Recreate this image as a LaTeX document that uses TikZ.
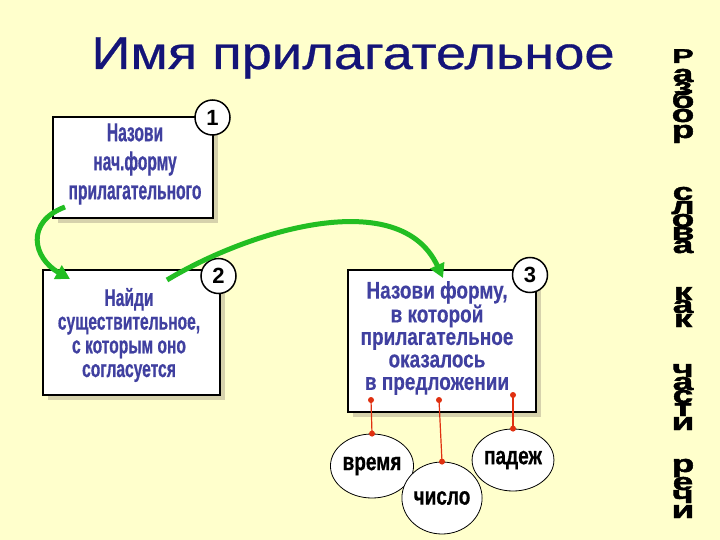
\documentclass[tikz,border=0pt]{standalone}
\usepackage{fontspec}
\setmainfont{Liberation Sans}
\newfontfamily\titlefont[FakeStretch=1.18,FakeBold=0.6]{Liberation Sans}
\newfontfamily\narrowA[FakeStretch=0.6,FakeBold=0.7]{Liberation Sans}
\newfontfamily\narrowB[FakeStretch=0.65,FakeBold=0.6]{Liberation Sans}
\newfontfamily\narrowC[FakeStretch=0.79,FakeBold=0.3]{Liberation Sans}
\newfontfamily\narrowW[FakeStretch=0.76,FakeBold=0.6]{Liberation Sans}
\newfontfamily\heavyfont[FakeBold=1.5]{Liberation Sans}
\usetikzlibrary{arrows.meta,shapes.geometric,shadows}
\definecolor{bg}{RGB}{255,255,204}
\definecolor{navy}{RGB}{20,20,120}
\definecolor{boxtext}{RGB}{64,64,160}
\definecolor{shadowc}{RGB}{214,210,172}
\definecolor{arrowgreen}{RGB}{34,190,34}
\definecolor{dotred}{RGB}{224,48,16}
\tikzset{
  stepbox/.style={draw=black, line width=1.8pt, fill=white, inner sep=0pt,
    drop shadow={shadow xshift=5pt, shadow yshift=-5pt, fill=shadowc, opacity=1}},
  boxtxt/.style={text=boxtext, align=center, inner sep=0pt},
  numcirc/.style={circle, draw=black, line width=1.5pt, fill=white, minimum size=35pt,
    inner sep=0pt, font=\bfseries\fontsize{22}{22}\selectfont},
  wordcirc/.style={ellipse, draw=black, line width=0.8pt, fill=white, inner sep=0pt,
    font=\narrowW\bfseries\fontsize{25}{25}\selectfont},
  greenarrow/.style={draw=arrowgreen, line width=5pt,
    -{Triangle[length=14pt,width=15pt]}},
  reddot/.style={circle, fill=dotred, minimum size=6pt, inner sep=0pt},
  redline/.style={draw=dotred, line width=1.2pt},
  vletter/.style={anchor=base, inner sep=0pt, font=\heavyfont\bfseries\fontsize{20}{20}\selectfont}
}
\begin{document}
\begin{tikzpicture}[x=1pt,y=-1pt]
\useasboundingbox (0,0) rectangle (720,540);
\fill[bg] (0,0) rectangle (720,540);

% title
\node[anchor=base, inner sep=0pt, text=navy, font=\titlefont\fontsize{46}{50}\selectfont]
  (title) at (353,69) {Имя прилагательное};

% boxes
\node[stepbox, minimum width=160pt, minimum height=101pt] (b1) at (133,167.5) {};
\node[stepbox, minimum width=177pt, minimum height=125pt] (b2) at (131.5,332.5) {};
\node[stepbox, minimum width=188pt, minimum height=142pt] (b3) at (442,341) {};

% box texts
\node[boxtxt, font=\narrowA\bfseries\fontsize{26}{29}\selectfont] (t1) at (135,164)
  {Назови\\нач.форму\\прилагательного};
\node[boxtxt, font=\narrowB\bfseries\fontsize{24}{23.7}\selectfont] (t2) at (129,335)
  {Найди\\существительное,\\с которым оно\\согласуется};
\node[boxtxt, font=\narrowC\bfseries\fontsize{24}{22.5}\selectfont] (t3) at (437,338)
  {Назови форму,\\в которой\\прилагательное\\оказалось\\в предложении};

% number circles
\node[numcirc] (n1) at (212.5,117.5) {1};
\node[numcirc] (n2) at (218.5,276) {2};
\node[numcirc] (n3) at (530,275) {3};

% green arrows
\coordinate (a1s) at (65,207);
\coordinate (a1e) at (70,279);
\coordinate (a2s) at (167,280);
\coordinate (a2e) at (443,278);
\draw[greenarrow] (a1s) .. controls (25,222) and (33,258) .. (a1e);
\draw[greenarrow] (a2s) .. controls (250,230) and (400,185) .. (a2e);

% word circles
\node[wordcirc, minimum width=68pt, minimum height=64pt] (w1) at (372,466) {время};
\node[wordcirc, minimum width=74pt, minimum height=72pt] (w2) at (442,498) {число};
\node[wordcirc, minimum width=68pt, minimum height=62pt] (w3) at (513,460) {падеж};

% red connectors
\node[reddot] (d1) at (371,400) {};
\node[reddot] (d2) at (439,400) {};
\node[reddot] (d3) at (513,395) {};
\draw[redline] (d1.center) -- (w1.north);
\draw[redline] (d2.center) -- (w2.north);
\draw[redline] (d3.center) -- (w3.north);
\node[reddot] (e1) at (w1.north) {};
\node[reddot] (e2) at (w2.north) {};
\node[reddot] (e3) at (w3.north) {};

% vertical text
\node[vletter] (vP) at (683,63) {\scalebox{1.6}[1.0]{Р}};
\foreach \l/\y [count=\i] in {а/82, з/95, б/108, о/122, р/138,
    с/200, л/214, о/227, в/240, а/253,
    к/300, а/313, к/327,
    ч/377, а/390, с/403, т/416, и/430,
    р/472, е/490, ч/503, и/518}
  \node[vletter] (v\i) at (683,\y) {\scalebox{1.85}[1.22]{\l}};
\end{tikzpicture}
\end{document}
